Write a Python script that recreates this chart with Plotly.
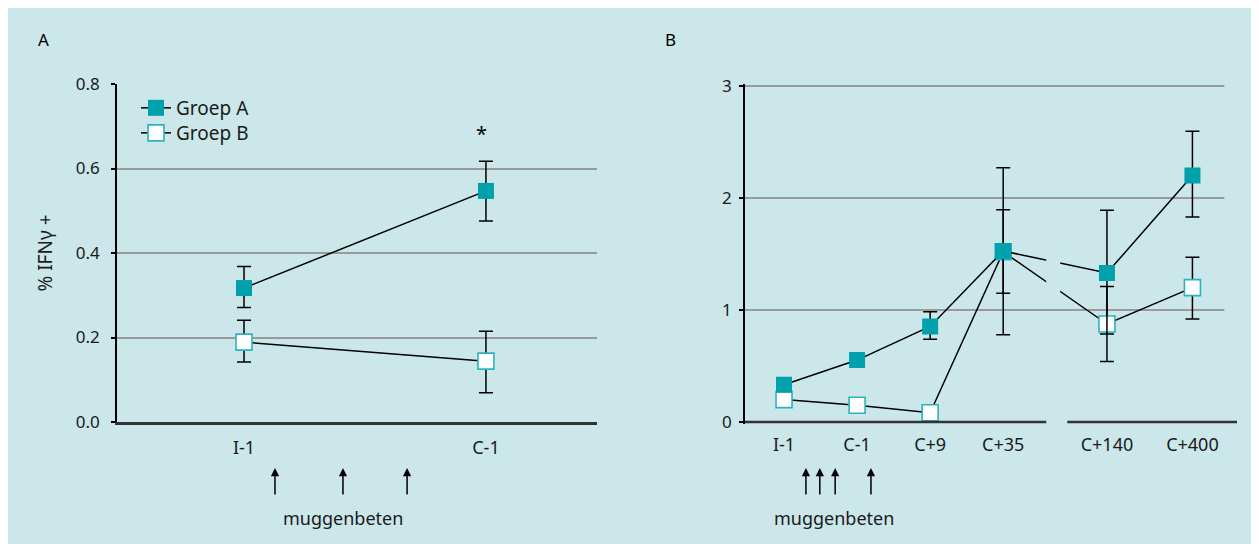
import plotly.graph_objects as go

# ---------------- data ----------------
# Panel A
cats_a = ["I-1", "C-1"]
a_groepA = [0.317, 0.547]
a_groepA_hi = [0.368, 0.617]
a_groepA_lo = [0.271, 0.476]
a_groepB = [0.189, 0.144]
a_groepB_hi = [0.241, 0.215]
a_groepB_lo = [0.142, 0.069]
bites_a = [0.128, 0.409, 0.674]          # moments of mosquito bites (category units)

# Panel B
cats_b = ["I-1", "C-1", "C+9", "C+35", "C+140", "C+400"]
pos_b = [0, 1, 2, 3, 4.42, 5.59]
b_groepA = [0.333, 0.553, 0.853, 1.527, 1.33, 2.2]
b_groepA_hi = [None, None, 0.985, 2.27, 1.89, 2.595]
b_groepA_lo = [None, None, 0.738, 0.778, 0.785, 1.83]
b_groepB = [0.2, 0.149, 0.083, 1.52, 0.875, 1.2]
b_groepB_hi = [None, None, None, 1.896, 1.21, 1.47]
b_groepB_lo = [None, None, None, 1.15, 0.54, 0.92]
bites_b = [0.30, 0.49, 0.70, 1.19]

yticks_a = [0.0, 0.2, 0.4, 0.6, 0.8]
yticks_b = [0, 1, 2, 3]

# ---------------- style ----------------
BG = "#cbe7ea"
TEAL = "#00a1ad"
TEAL_EDGE = "#2bb3be"
GRID = "#9a9a9a"
AXIS = "#333333"
TXT = "#1a1a1a"
FONT = "Noto Sans"
OFF = 8                      # page body margin of the html page
W, H = 1259 - OFF, 544 - OFF


def px(x):
    return (x - OFF) / W


def py(y):
    return 1 - (y - OFF) / H


def plus(v, hi):
    return [None if h is None else h - a for a, h in zip(v, hi)]


def minus(v, lo):
    return [None if l is None else a - l for a, l in zip(v, lo)]


def err(v, hi, lo):
    return dict(type="data", symmetric=False, array=plus(v, hi), arrayminus=minus(v, lo),
                color="black", thickness=1.5, width=7)


mA = dict(symbol="square", size=16, color=TEAL, line=dict(width=0))
mB = dict(symbol="square", size=16, color="white", line=dict(width=1.6, color=TEAL_EDGE))
ln = dict(color="black", width=1.5)

fig = go.Figure()
fig.add_trace(go.Scatter(x=cats_a, y=a_groepA, mode="lines+markers", name="Groep A",
                         marker=mA, line=ln, error_y=err(a_groepA, a_groepA_hi, a_groepA_lo),
                         xaxis="x", yaxis="y", legend="legend"))
fig.add_trace(go.Scatter(x=cats_a, y=a_groepB, mode="lines+markers", name="Groep B",
                         marker=mB, line=ln, error_y=err(a_groepB, a_groepB_hi, a_groepB_lo),
                         xaxis="x", yaxis="y", legend="legend2"))
fig.add_trace(go.Scatter(x=pos_b, y=b_groepB, mode="lines+markers", name="Groep B",
                         marker=mB, line=ln, error_y=err(b_groepB, b_groepB_hi, b_groepB_lo),
                         xaxis="x2", yaxis="y2", showlegend=False))
fig.add_trace(go.Scatter(x=pos_b, y=b_groepA, mode="lines+markers", name="Groep A",
                         marker=mA, line=ln, error_y=err(b_groepA, b_groepA_hi, b_groepA_lo),
                         xaxis="x2", yaxis="y2", showlegend=False))

# axis ranges / domains
xa_range = [-0.525, 1.459]
xb_range = [-0.534, 6.2]
yb_range = [-0.02, 3.02]

xtickfont = dict(family=FONT, size=18, color=TXT)
ytickfont = dict(family=FONT, size=17, color=TXT)
legfont = dict(family=FONT, size=19, color=TXT)

fig.update_layout(
    width=W, height=H,
    margin=dict(l=0, r=0, t=0, b=0, pad=0, autoexpand=False),
    paper_bgcolor=BG,
    plot_bgcolor="rgba(0,0,0,0)",
    font=dict(family=FONT, size=18, color=TXT),
    showlegend=True,
    legend=dict(x=px(136), y=py(89), xanchor="left", yanchor="top",
                bgcolor="rgba(0,0,0,0)", font=legfont, itemwidth=30),
    legend2=dict(x=px(136), y=py(114), xanchor="left", yanchor="top",
                 bgcolor="rgba(0,0,0,0)", font=legfont, itemwidth=30),
    xaxis=dict(domain=[px(117), px(597)], range=xa_range, type="category",
               showgrid=False, zeroline=False, showline=True, linecolor=AXIS, linewidth=2.5,
               ticks="", tickfont=xtickfont, ticklabelstandoff=8, anchor="y", automargin=False),
    yaxis=dict(domain=[py(422), py(84)], range=[0, 0.8], tickvals=yticks_a,
               ticktext=[f"{v:.1f}" for v in yticks_a],
               showgrid=True, gridcolor=GRID, gridwidth=2, zeroline=False,
               showline=True, linecolor="black", linewidth=1.5,
               ticks="outside", ticklen=4, tickwidth=1.5, tickcolor="black",
               tickfont=ytickfont, ticklabelstandoff=8, anchor="x", automargin=False,
               title=dict(text="% IFNγ +", font=dict(family=FONT, size=19, color=TXT),
                          standoff=18)),
    xaxis2=dict(domain=[px(745), px(1237)], range=xb_range, tickvals=pos_b, ticktext=cats_b,
                showgrid=False, zeroline=False, showline=False, ticks="",
                tickfont=xtickfont, ticklabelstandoff=8, anchor="y2", automargin=False),
    yaxis2=dict(domain=[py(422 + 0.02 * 112), py(86 - 0.02 * 112)], range=yb_range,
                tickvals=yticks_b, showgrid=False, zeroline=False,
                showline=True, linecolor="black", linewidth=1.5,
                ticks="outside", ticklen=4, tickwidth=1.5, tickcolor="black",
                tickfont=ytickfont, ticklabelstandoff=4, anchor="x2", automargin=False),
)

shapes = []
# panel B gridlines (end before the axis end)
for v in yticks_b[1:]:
    shapes.append(dict(type="line", xref="x2", yref="y2", x0=xb_range[0], x1=6.027, y0=v, y1=v,
                       line=dict(color=GRID, width=2), layer="below"))
# panel B broken x axis
ydom0 = py(422)
for x0, x1 in [(xb_range[0], 3.589), (3.877, xb_range[1])]:
    shapes.append(dict(type="line", xref="x2", yref="paper", x0=x0, x1=x1, y0=ydom0, y1=ydom0,
                       line=dict(color=AXIS, width=2.5), layer="above"))
# break in the connecting lines between C+35 and C+140
shapes.append(dict(type="rect", xref="x2", yref="y2", x0=3.589, x1=3.78, y0=1.08, y1=1.62,
                   fillcolor=BG, line=dict(width=0), layer="above"))
fig.update_layout(shapes=shapes)

ann = []
ann.append(dict(text="A", xref="paper", yref="paper", x=px(43), y=py(40), showarrow=False,
                xanchor="center", yanchor="middle",
                font=dict(family=FONT, size=17, color="black")))
ann.append(dict(text="B", xref="paper", yref="paper", x=px(670), y=py(40), showarrow=False,
                xanchor="center", yanchor="middle",
                font=dict(family=FONT, size=17, color="black")))
ann.append(dict(text="*", xref="x", yref="y", x="C-1", y=0.684, xshift=-4, showarrow=False,
                xanchor="center", yanchor="middle",
                font=dict(family=FONT, size=20, color="black")))
for xr, bites in [("x", bites_a), ("x2", bites_b)]:
    for b in bites:
        ann.append(dict(text="", xref=xr, yref="paper", x=b, y=py(468), ax=0, ay=28,
                        showarrow=True, arrowhead=2, arrowsize=1.1, arrowwidth=1.5,
                        arrowcolor="black", standoff=0))
ann.append(dict(text="muggenbeten", xref="x", yref="paper", x=bites_a[1], y=py(518),
                xanchor="center", yanchor="middle", showarrow=False,
                font=dict(family=FONT, size=18, color=TXT)))
ann.append(dict(text="muggenbeten", xref="x2", yref="paper", x=0.685, y=py(518),
                xanchor="center", yanchor="middle", showarrow=False,
                font=dict(family=FONT, size=18, color=TXT)))
fig.update_layout(annotations=ann)

fig.write_html("out.html")
